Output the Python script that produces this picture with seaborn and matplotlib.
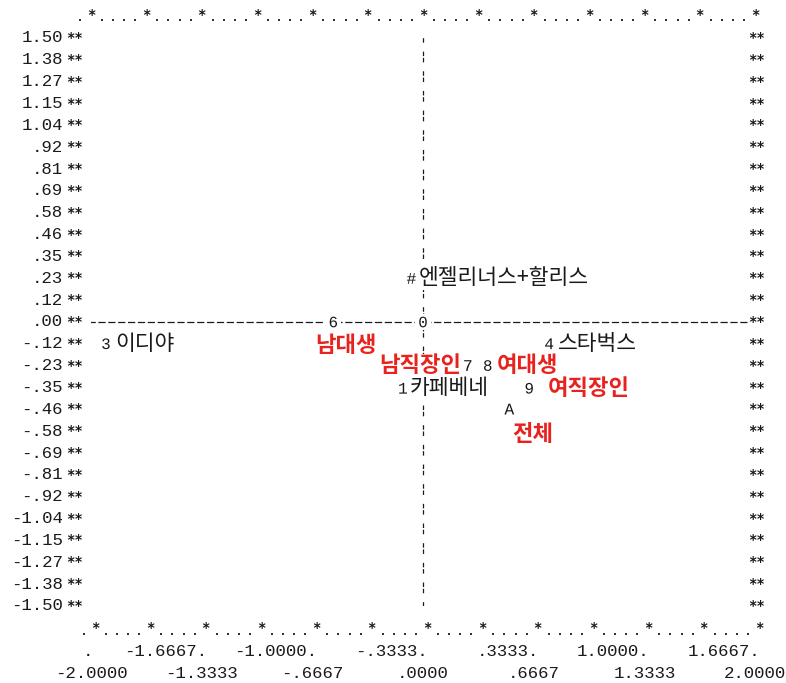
import numpy as np
import matplotlib
matplotlib.use("Agg")
import matplotlib.pyplot as plt
import seaborn as sns

# 대응분석 좌표
symbols = ["1", "3", "4", "#", "6", "7", "8", "9", "A", "0"]
dim1 = [-0.12, -1.91, 0.76, -0.07, -0.54, 0.27, 0.39, 0.64, 0.52, 0.0]
dim2 = [-0.35, -0.115, -0.115, 0.23, 0.0, -0.23, -0.23, -0.35, -0.46, 0.0]
names = ["카페베네", "이디야", "스타벅스", "엔젤리너스+할리스", "남대생",
         "남직장인", "여대생", "여직장인", "전체", ""]
is_red = [False, False, False, False, True, True, True, True, True, False]

y_tick_labels = ["1.50", "1.38", "1.27", "1.15", "1.04", ".92", ".81", ".69",
                 ".58", ".46", ".35", ".23", ".12", ".00", "-.12", "-.23",
                 "-.35", "-.46", "-.58", "-.69", "-.81", "-.92", "-1.04",
                 "-1.15", "-1.27", "-1.38", "-1.50"]
x_tick_labels = ["-2.0000", "-1.6667", "-1.3333", "-1.0000", "-.6667", "-.3333",
                 ".0000", ".3333", ".6667", "1.0000", "1.3333", "1.6667", "2.0000"]

# label offsets in points (layout only)
label_pos = {"1": (5, 0, "left"), "3": (6.5, 0, "left"), "4": (6.5, 0, "left"),
             "#": (5.5, 0, "left"), "6": (9.4, -16.6, "center"),
             "7": (-5, 0, "right"), "8": (6.5, 0, "left"), "9": (13, 0, "left"),
             "A": (16.5, -18, "center")}

sns.set_theme(style="white")
plt.rcParams["font.family"] = ["Noto Sans CJK KR", "DejaVu Sans"]
plt.rcParams["mathtext.fontset"] = "custom"
plt.rcParams["mathtext.rm"] = "Liberation Mono"

INK = "#1a1a1a"
RED = "#e8231f"
MONO = "Liberation Mono"
STAR = dict(family="DejaVu Sans Mono", weight="bold", fontsize=10, color=INK,
            va="center", clip_on=False)

fig = plt.figure(figsize=(7.86, 6.83), dpi=100)
ax = fig.add_axes([91 / 786, 1 - 606 / 683, 664 / 786, 568 / 683])
ax.set_xlim(-2, 2)
ax.set_ylim(-1.5, 1.5)
ax.axis("off")

x_ticks = np.linspace(-2, 2, len(x_tick_labels))
y_ticks = np.linspace(1.5, -1.5, len(y_tick_labels))
row = y_ticks[0] - y_ticks[1]
px_x = 4 / 664
px_y = 3 / 568

# reference lines
ax.plot([-2.018, 1.96], [0, 0], color=INK, lw=0.9, ls=(0, (5.8, 2.1)), zorder=1)
ax.plot([0, 0], [1.5 + row / 2, -1.5 - row / 2], color=INK, lw=0.9,
        ls=(12.16, (3.6, 1.4, 3.6, 7.13)), zorder=1)

# y axis labels and star columns
for yv, lab in zip(y_ticks, y_tick_labels):
    ax.text(-2 - 28 * px_x, yv, lab, family=MONO, fontsize=12.5, color=INK,
            ha="right", va="center", clip_on=False)
    ax.text(-2 - 25 * px_x, yv, "**", ha="left", zorder=3, **STAR)
    ax.text(2 - 7 * px_x, yv, "**", ha="left", zorder=3, **STAR)

# top / bottom border rows
step = x_ticks[1] - x_ticks[0]
dot_x = [x_ticks[0] - step / 5] + [t + k * step / 5 for t in x_ticks[:-1] for k in range(1, 5)]
top_star, top_dot = 1.5 + 23 * px_y, 1.5 + 18 * px_y
bot_star, bot_dot = -1.5 - 22 * px_y, -1.5 - 28 * px_y
shift = 4 * px_x
ax.scatter(dot_x, [top_dot] * len(dot_x), s=2.5, marker="s", color="#333333",
           linewidths=0, clip_on=False)
ax.scatter(np.array(dot_x) + shift, [bot_dot] * len(dot_x), s=2.5, marker="s",
           color="#333333", linewidths=0, clip_on=False)
for xv in x_ticks:
    ax.text(xv, top_star, "*", ha="center", **STAR)
    ax.text(xv + shift, bot_star, "*", ha="center", **STAR)

# x axis labels: staggered in two rows, row 1 carries dots at the even ticks
row1_y = -1.5 - 45 * px_y
row2_y = -1.5 - 67 * px_y
ax.text(x_ticks[0] - 3 * px_x, row1_y, ".", family=MONO, fontsize=12.5, color=INK,
        ha="center", va="center", clip_on=False)
for i, (xv, lab) in enumerate(zip(x_ticks, x_tick_labels)):
    if i % 2 == 0:
        ax.text(xv, row2_y, lab, family=MONO, fontsize=12.5, color=INK,
                ha="center", va="center", clip_on=False)
    else:
        ax.text(x_ticks[i + 1] + 5 * px_x, row1_y, lab + ".", family=MONO,
                fontsize=12.5, color=INK, ha="right", va="center", clip_on=False)

# point symbols
marker_map = {s: r"$\mathrm{%s}$" % (r"\#" if s == "#" else s) for s in symbols}
sns.scatterplot(x=dim1, y=dim2, marker="s", color="white", s=120, linewidth=0,
                legend=False, ax=ax, zorder=3)
sns.scatterplot(x=dim1, y=dim2, style=symbols, markers=marker_map, s=60,
                color=INK, linewidth=0, legend=False, ax=ax, zorder=4)

# labels
for sym, xv, yv, name, red in zip(symbols, dim1, dim2, names, is_red):
    if not name:
        continue
    dx, dy, ha = label_pos[sym]
    ax.annotate(name, xy=(xv, yv), xytext=(dx, dy), textcoords="offset points",
                ha=ha, va="center", fontsize=16 if red else 15.5,
                weight="bold" if red else "medium",
                color=RED if red else INK, zorder=5,
                bbox=dict(facecolor="white", edgecolor="none", pad=0.3))

fig.savefig("out.png", dpi=100)
plt.close(fig)
